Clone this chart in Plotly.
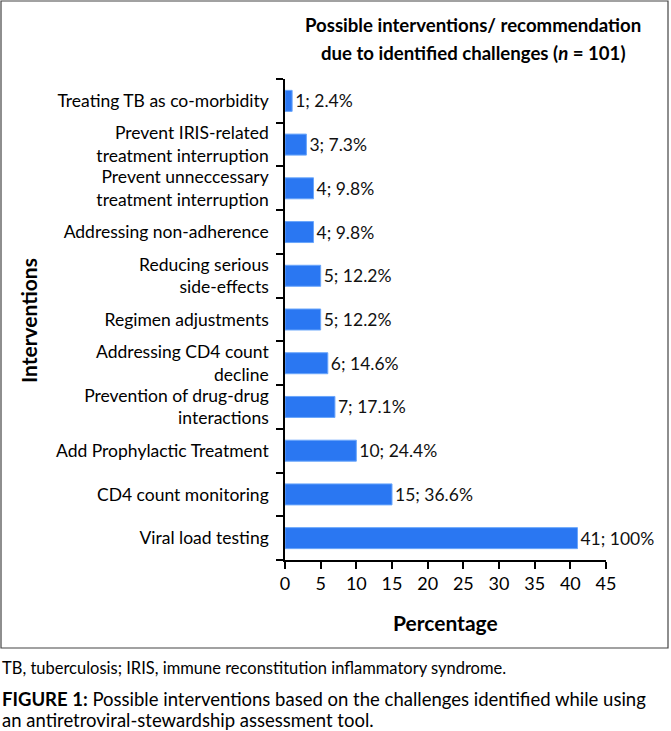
import plotly.graph_objects as go

# ---- data ----
interventions = [
    "Treating TB as co-morbidity",
    "Prevent IRIS-related<br>treatment interruption",
    "Prevent unneccessary<br>treatment interruption",
    "Addressing non-adherence",
    "Reducing serious<br>side-effects",
    "Regimen adjustments",
    "Addressing CD4 count<br>decline",
    "Prevention of drug-drug<br>interactions",
    "Add Prophylactic Treatment",
    "CD4 count monitoring",
    "Viral load testing",
]
counts = [1, 3, 4, 4, 5, 5, 6, 7, 10, 15, 41]
percents = ["2.4", "7.3", "9.8", "9.8", "12.2", "12.2", "14.6", "17.1", "24.4", "36.6", "100"]
x_ticks = [0, 5, 10, 15, 20, 25, 30, 35, 40, 45]

labels = [f"{c}; {p}%" for c, p in zip(counts, percents)]

W, H = 671, 731
L, R, T, B = 285, 65, 79, 171
PW = W - L - R
PH = H - T - B


def px_x(p):
    return (p - L) / PW


def px_y(p):
    return (H - B - p) / PH


FONT = "Lato"

fig = go.Figure()
fig.add_trace(go.Bar(
    y=interventions,
    x=counts,
    orientation="h",
    width=0.48,
    marker=dict(color="#2A77F2", line=dict(color="#6AA6FB", width=1)),
    text=labels,
    textposition="outside",
    textfont=dict(family=FONT, size=17.5, color="#111111"),
    cliponaxis=False,
    hoverinfo="skip",
))

fig.update_layout(
    width=W, height=H,
    margin=dict(l=L, r=R, t=T, b=B),
    paper_bgcolor="white",
    plot_bgcolor="white",
    showlegend=False,
    font=dict(family=FONT, size=17.5, color="black"),
    xaxis=dict(
        range=[0, 45],
        tickvals=x_ticks,
        ticks="outside", ticklen=7, tickwidth=1.5, tickcolor="black",
        showline=True, linecolor="black", linewidth=1.5,
        showgrid=False, zeroline=False,
        tickfont=dict(family=FONT, size=18, color="black"),
    ),
    yaxis=dict(
        type="category",
        categoryorder="array",
        categoryarray=interventions[::-1],
        tickson="boundaries",
        ticks="outside", ticklen=7, tickwidth=1.5, tickcolor="black",
        showline=True, linecolor="black", linewidth=1.5,
        showgrid=False, zeroline=False,
        tickfont=dict(family=FONT, size=17.5, color="black"),
        ticklabelstandoff=11,
    ),
)

ann = [
    dict(text="<b>Possible interventions/ recommendation</b>", x=px_x(473), y=px_y(25),
         font=dict(size=18.6)),
    dict(text="<b>due to identified challenges (<i>n</i> = 101)</b>", x=px_x(473), y=px_y(53),
         font=dict(size=18.6)),
    dict(text="<b>Percentage</b>", x=px_x(445), y=px_y(622), font=dict(size=21)),
    dict(text="<b>Interventions</b>", x=px_x(28), y=px_y(321), textangle=-90, font=dict(size=21)),
    dict(text="TB, tuberculosis; IRIS, immune reconstitution inflammatory syndrome.",
         x=px_x(0), y=px_y(668), xanchor="left", font=dict(size=16.5)),
    dict(text="<b>FIGURE 1:</b> Possible interventions based on the challenges identified while using",
         x=px_x(0), y=px_y(699), xanchor="left", font=dict(size=18.5)),
    dict(text="an antiretroviral-stewardship assessment tool.",
         x=px_x(0), y=px_y(720), xanchor="left", font=dict(size=18.5)),
]
for a in ann:
    a.setdefault("xanchor", "center")
    a.update(xref="paper", yref="paper", yanchor="middle", showarrow=False)
    a["font"] = dict(family=FONT, color="black", **a["font"])
    fig.add_annotation(**a)

fig.add_shape(type="rect", xref="paper", yref="paper",
              x0=px_x(1), x1=px_x(668), y0=px_y(648), y1=px_y(1),
              line=dict(color="#444444", width=1.2), fillcolor="rgba(0,0,0,0)")

fig.write_html("out.html", config={"displayModeBar": False},
               post_script="document.body.style.margin='0';document.body.style.overflow='hidden';")
